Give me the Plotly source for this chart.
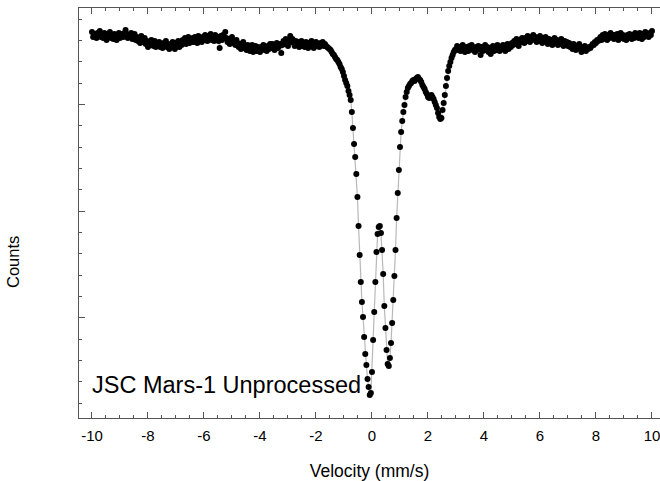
import numpy as np
import plotly.graph_objects as go

# Velocity channels (mm/s), 0.04 mm/s step from -10 to 10
velocity = np.round(np.arange(501) * 0.04 - 10.0, 2)

# Counts (arbitrary units)
counts_left = [
    389, 384, 387, 386, 383, 388, 385, 390, 384, 386,
    383, 388, 386, 381, 387, 385, 389, 383, 386, 382,
    387, 384, 381, 386, 388, 383, 385, 387, 384, 388,
    391, 387, 383, 386, 384, 388, 382, 385, 387, 381,
    384, 380, 383, 378, 385, 381, 379, 383, 377, 380,
    374, 379, 376, 381, 377, 375, 380, 374, 378, 376,
    379, 374, 377, 373, 378, 375, 380, 374, 376, 372,
    377, 374, 379, 375, 372, 378, 376, 380, 374, 377,
    376, 381, 378, 383, 377, 380, 384, 378, 381, 379,
    383, 379, 384, 380, 378, 385, 381, 383, 379, 384,
    381, 386, 383, 380, 385, 382, 387, 381, 384, 380,
    386, 382, 384, 380, 373, 385, 381, 386, 383, 389,
    383, 379, 382, 377, 381, 384, 378, 380, 376, 381,
    378, 374, 377, 372, 376, 379, 373, 375, 371, 376,
    374, 370, 373, 376, 369, 372, 375, 370, 374, 371,
    369, 374, 372, 376, 371, 373, 370, 375, 372, 377,
    373, 377, 374, 371, 376, 378, 373, 375, 377, 368,
    376, 380, 377, 382, 378, 375, 381, 385, 379, 382,
    378, 375, 380, 376, 379, 374, 377, 380, 375, 378,
    374, 379, 376, 373, 378, 375, 380, 376, 373, 377,
    379, 375, 377, 374, 378, 376, 379, 375, 377, 375,
]
counts_dip_left = [
    374, 373, 372, 371, 369, 367, 366, 364, 362, 361,
    359, 357, 354, 352, 349, 345, 341, 338, 335, 330,
    326, 321, 309, 293, 277, 264, 247, 224, 195, 166,
    139, 119, 104, 84, 67, 56, 42, 34, 26, 28,
]
counts_center = [
    49, 81, 109, 139, 169, 187, 194, 195, 188, 171,
    147, 115, 93, 71, 57, 55, 63, 78, 98, 121,
    145, 171, 203, 228, 251, 274, 289, 300, 309, 316,
    324, 329, 333, 335, 337, 338, 340, 341, 340, 342,
    343, 344, 342, 341, 339, 336, 334, 332, 329, 327,
    324, 323, 325, 326, 324, 322, 319, 316, 313, 308,
    304, 302, 303, 311, 318, 326, 335, 343, 350, 355,
    359, 363, 366, 369, 371, 372,
]
counts_right = [
    375, 371, 374, 370, 373, 376, 372, 369, 374, 372,
    370, 375, 372, 376, 371, 373, 369, 374, 371, 375,
    372, 366, 374, 370, 373, 376, 371, 374, 369, 373,
    367, 372, 375, 370, 374, 371, 376, 372, 370, 374,
    372, 376, 373, 370, 375, 377, 372, 376, 374, 378,
    376, 380, 377, 382, 378, 375, 381, 379, 383, 380,
    378, 383, 380, 385, 381, 379, 384, 381, 386, 382,
    384, 379, 383, 380, 385, 381, 378, 383, 380, 384,
    380, 377, 382, 378, 381, 376, 380, 383, 378, 381,
    376, 380, 377, 382, 378, 375, 380, 377, 379, 375,
    378, 374, 376, 372, 377, 374, 371, 375, 373, 377,
    372, 369, 374, 371, 375, 370, 373, 372, 374, 373,
    375, 377, 376, 379, 378, 381, 380, 382, 384, 381,
    386, 382, 387, 384, 381, 386, 383, 388, 384, 386,
    382, 386, 383, 387, 381, 385, 388, 383, 386, 382,
    385, 381, 386, 383, 387, 384, 382, 386, 383, 388,
    384, 387, 383, 388, 385, 382, 387, 384, 389, 385,
    387, 384, 388, 386, 390,
]
counts = counts_left + counts_dip_left + counts_center + counts_right

x_ticks = [-10, -8, -6, -4, -2, 0, 2, 4, 6, 8, 10]
x_labels = ["-10", "-8", "-6", "-4", "-2", "0", "2", "4", "6", "8", "10"]
label_text = "JSC Mars-1 Unprocessed"

FONT = "Liberation Sans, Arial, sans-serif"
AXC = "#555555"

fig = go.Figure()
fig.add_trace(go.Scatter(
    x=velocity, y=counts, mode="lines+markers",
    line=dict(color="#b8b8b8", width=1.2),
    marker=dict(color="#000000", size=6),
    showlegend=False, hoverinfo="skip",
))

fig.update_layout(
    width=660, height=481,
    margin=dict(l=79, r=0, t=8, b=63),
    paper_bgcolor="white", plot_bgcolor="white",
    font=dict(family=FONT, color="#000000"),
    xaxis=dict(
        range=[-10.464, 10.286],
        tickmode="array", tickvals=x_ticks, ticktext=x_labels,
        ticks="inside", ticklen=6, tickwidth=1, tickcolor=AXC,
        minor=dict(dtick=0.5, tick0=0, ticks="inside", ticklen=3, tickcolor=AXC, showgrid=False),
        showline=True, linecolor=AXC, linewidth=1, mirror="ticks",
        showgrid=False, zeroline=False,
        ticklabeloverflow="allow", ticklabelstandoff=4,
        tickfont=dict(size=15, family=FONT),
        title=dict(text="Velocity (mm/s)", font=dict(size=17.5, family=FONT), standoff=23),
    ),
    yaxis=dict(
        range=[3, 413],
        tick0=-3.65, dtick=106.75,
        ticks="inside", ticklen=6, tickwidth=1, tickcolor=AXC,
        minor=dict(dtick=21.35, tick0=-3.65, ticks="inside", ticklen=3, tickcolor=AXC, showgrid=False),
        showline=True, linecolor=AXC, linewidth=1,
        showticklabels=False, showgrid=False, zeroline=False,
    ),
    yaxis2=dict(
        overlaying="y", side="right", range=[3, 413],
        tick0=-3.65, dtick=106.75, ticks="inside", ticklen=3, tickcolor=AXC,
        showline=False, showticklabels=False, showgrid=False, zeroline=False,
    ),
)

fig.add_annotation(
    x=-10.06, y=36, xref="x", yref="y", text=label_text, showarrow=False,
    xanchor="left", yanchor="middle", font=dict(size=23.5, family=FONT, color="#000000"),
)
fig.add_annotation(
    x=(13 - 79) / 581.0, y=(418 - 262) / 410.0, xref="paper", yref="paper",
    text="Counts", showarrow=False, textangle=-90,
    xanchor="center", yanchor="middle",
    font=dict(size=16.5, family=FONT, color="#000000"),
)

fig.write_html("out.html")
